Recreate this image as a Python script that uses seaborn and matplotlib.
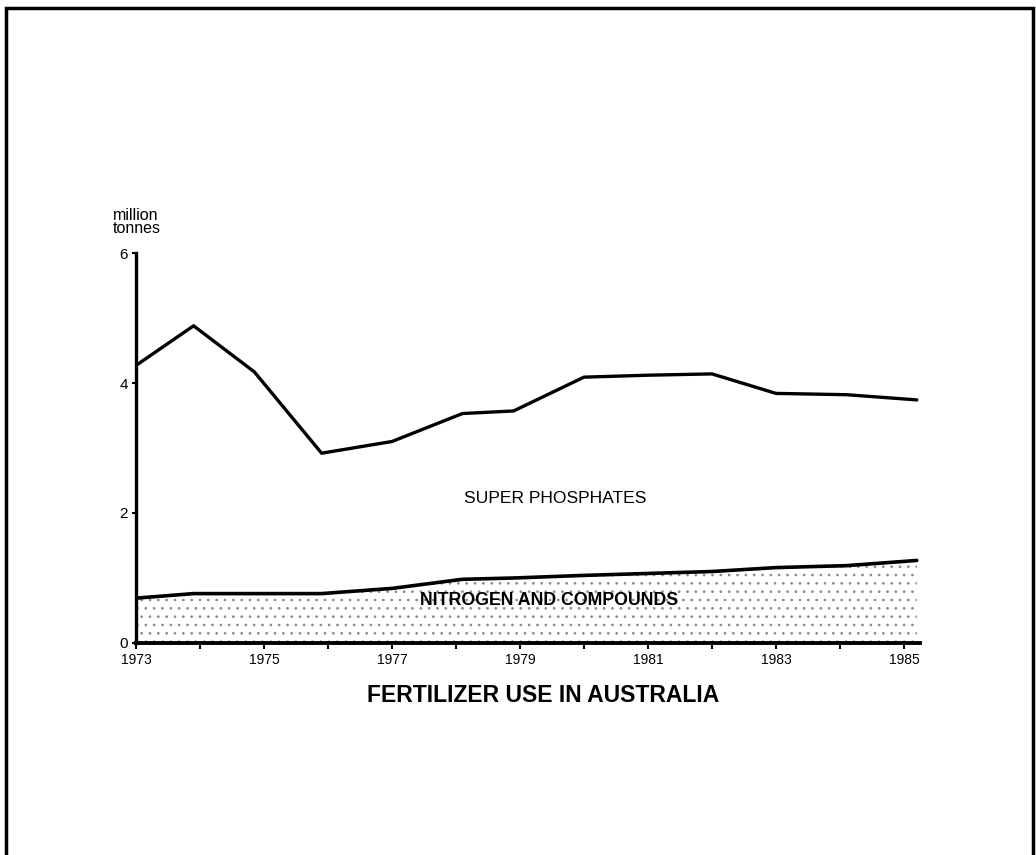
import numpy as np
import pandas as pd
import matplotlib
matplotlib.use("Agg")
import matplotlib.pyplot as plt
import matplotlib.patches as patches
import seaborn as sns

# Values (million tonnes)
years = [1973, 1973.9, 1974.85, 1975.9, 1977.0, 1978.1, 1978.9,
         1980.0, 1981.0, 1982.0, 1983.0, 1984.1, 1985.2]
super_phosphates = [4.27, 4.88, 4.17, 2.92, 3.10, 3.53, 3.57,
                    4.09, 4.12, 4.14, 3.84, 3.82, 3.74]
nitrogen = [0.69, 0.76, 0.76, 0.76, 0.84, 0.98, 1.00,
            1.04, 1.07, 1.10, 1.16, 1.19, 1.27]
x_labels = [1973, 1975, 1977, 1979, 1981, 1983, 1985]
y_ticks = [0, 2, 4, 6]

df = pd.DataFrame({'year': years, 'super': super_phosphates, 'nitrogen': nitrogen})

sns.set_style('ticks')
plt.rcParams['font.family'] = ['Liberation Sans', 'DejaVu Sans']
plt.rcParams['text.color'] = 'black'
plt.rcParams['xtick.color'] = 'black'
plt.rcParams['ytick.color'] = 'black'
plt.rcParams['axes.edgecolor'] = 'black'
plt.rcParams['hatch.linewidth'] = 0.7

fig = plt.figure(figsize=(10.36, 8.55), dpi=100)
ax = fig.add_axes([136 / 1036, 1 - 643 / 855, (920 - 136) / 1036, (643 - 253) / 855])

# stippled nitrogen area
ax.fill_between(df['year'], 0, df['nitrogen'], facecolor='white', edgecolor='#8a8a8a',
                hatch='..', linewidth=0, zorder=1)

sns.lineplot(data=df, x='year', y='super', color='black', linewidth=2.4, ax=ax, zorder=3)
sns.lineplot(data=df, x='year', y='nitrogen', color='black', linewidth=2.6, ax=ax, zorder=3)

ax.set_xlim(1973, 1985.25)
ax.set_ylim(0, 6)
ax.set_xticks(x_labels)
ax.set_xticklabels([str(y) for y in x_labels])
ax.set_xticks(range(1974, 1985, 2), minor=True)
ax.set_yticks(y_ticks)
ax.set_yticklabels([str(v) for v in y_ticks])
ax.tick_params(axis='x', which='both', direction='out', length=4, width=1.5,
               labelsize=10, pad=3)
ax.tick_params(axis='y', direction='out', length=3, width=1.5, labelsize=11, pad=3)
ax.set_xlabel('')
ax.set_ylabel('')
for side in ['top', 'right']:
    ax.spines[side].set_visible(False)
ax.spines['left'].set_linewidth(2.4)
ax.spines['bottom'].set_linewidth(2.8)

ax.text(1979.55, 2.23, 'SUPER PHOSPHATES', ha='center', va='center', fontsize=12.6, zorder=4)
ax.text(1979.45, 0.66, 'NITROGEN AND COMPOUNDS', ha='center', va='center',
        fontsize=12.8, fontweight='semibold', zorder=4)

fig.text(113 / 1036, 1 - 222 / 855, 'million\ntonnes', ha='left', va='center',
         fontsize=11.5, linespacing=0.9)
fig.text(543 / 1036, 1 - 695 / 855, 'FERTILIZER USE IN AUSTRALIA', ha='center',
         va='center', fontsize=16.5, fontweight='bold')

# outer frame of the page
frame = patches.Rectangle((6 / 1036, -0.02), (1033 - 6) / 1036, 1.02 - 8 / 855,
                          transform=fig.transFigure, fill=False, edgecolor='black',
                          linewidth=2.5)
fig.patches.append(frame)

fig.savefig('out.png', dpi=100)
